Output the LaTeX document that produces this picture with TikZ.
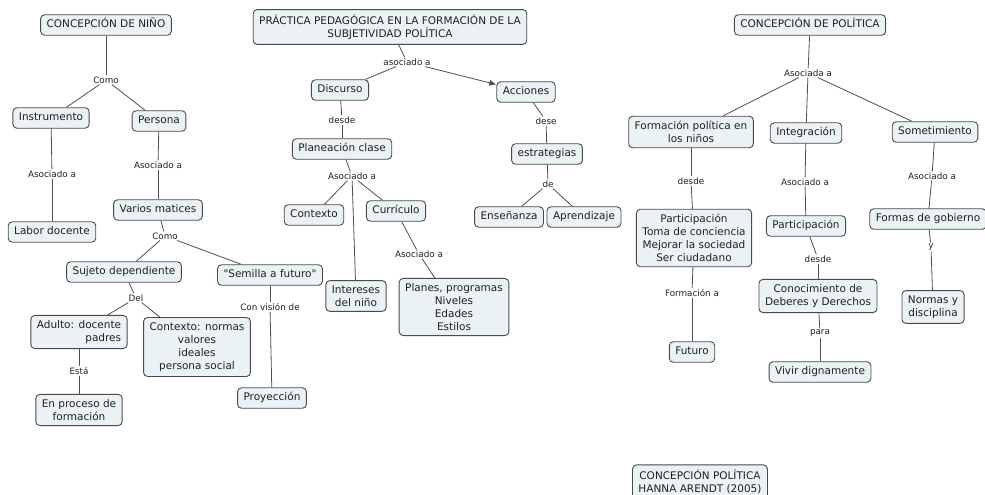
\documentclass[tikz,border=0pt]{standalone}
\usepackage{fontspec}
\setmainfont{DejaVu Sans}[Ligatures=TeXOff]
\usetikzlibrary{arrows.meta}
\definecolor{boxfill}{HTML}{EAF2F5}
\definecolor{boxline}{HTML}{4A4A4A}
\definecolor{lineclr}{HTML}{4F4F4F}
\definecolor{txt}{HTML}{202020}
\begin{document}
\begin{tikzpicture}[x=1pt,y=-1pt,
  concept/.style={draw=boxline, fill=boxfill, rounded corners=4pt, line width=0.9pt,
    font=\fontsize{10.5}{13}\selectfont, text=txt, align=center,
    inner xsep=6pt, inner ysep=5pt},
  one/.style={concept, text height=8pt, text depth=2.5pt},
  linklbl/.style={font=\fontsize{8.8}{10}\selectfont, text=txt, inner sep=1pt, fill=white},
  conn/.style={draw=lineclr, line width=0.8pt},
  arr/.style={conn, -{Latex[length=7pt,width=6pt]}}]
\useasboundingbox (0,0) rectangle (985,495);
\clip (0,0) rectangle (985,495);
\fill[white] (0,0) rectangle (985,495);

% ---------- Concepción de niño ----------
\node[one] (nino) at (106,25) {CONCEPCIÓN DE NIÑO};
\node[linklbl] (l1) at (106,80) {Como};
\node[one] (instr) at (51,118) {Instrumento};
\node[one] (pers) at (159,121) {Persona};
\node[linklbl] (l2) at (52,174) {Asociado a};
\node[linklbl] (l3) at (158,165) {Asociado a};
\node[one] (labor) at (52,232) {Labor docente};
\node[one] (varios) at (158,210) {Varios matices};
\node[linklbl] (l4) at (165,236) {Como};
\node[one] (sujeto) at (124,272) {Sujeto dependiente};
\node[one] (semilla) at (270,275) {"Semilla a futuro"};
\node[linklbl] (l5) at (136,298) {Del};
\node[concept, align=right] (adulto) at (79,332) {Adulto: docente\\padres};
\node[concept] (contx) at (197,347) {Contexto: normas\\valores\\ideales\\persona social};
\node[linklbl] (l6) at (79,371) {Está};
\node[concept] (proceso) at (79,410) {En proceso de\\formación};
\node[linklbl] (l7) at (270,307) {Con visión de};
\node[one] (proy) at (272,398) {Proyección};

% ---------- Práctica pedagógica ----------
\node[concept] (prac) at (390,27) {PRÁCTICA PEDAGÓGICA EN LA FORMACIÓN DE LA\\SUBJETIVIDAD POLÍTICA};
\node[linklbl] (m1) at (407,62) {asociado a};
\node[one] (disc) at (340,90) {Discurso};
\node[one] (acc) at (526,92) {Acciones};
\node[linklbl] (m2) at (342,120) {desde};
\node[one] (plan) at (342,149) {Planeación clase};
\node[linklbl] (m3) at (352,176) {Asociado a};
\node[one] (ctx) at (314,215) {Contexto};
\node[one] (curr) at (396,211) {Currículo};
\node[concept] (inter) at (356,296) {Intereses\\del niño};
\node[linklbl] (m4) at (419,254) {Asociado a};
\node[concept] (planes) at (454,307) {Planes, programas\\Niveles\\Edades\\Estilos};
\node[linklbl] (m5) at (546,121) {dese};
\node[one] (estr) at (547,154) {estrategias};
\node[linklbl] (m6) at (548,184) {de};
\node[one] (ense) at (509,217) {Enseñanza};
\node[one] (apre) at (584,217) {Aprendizaje};

% ---------- Concepción de política ----------
\node[one] (pol) at (810,25) {CONCEPCIÓN DE POLÍTICA};
\node[linklbl] (r1) at (808,73) {Asociada a};
\node[concept] (formpol) at (691,132) {Formación política en\\los niños};
\node[one] (integ) at (806,133) {Integración};
\node[one] (somet) at (935,132) {Sometimiento};
\node[linklbl] (r2) at (691,181) {desde};
\node[linklbl] (r3) at (805,182) {Asociado a};
\node[linklbl] (r4) at (932,176) {Asociado a};
\node[concept] (partm) at (694,238) {Participación\\Toma de conciencia\\Mejorar la sociedad\\Ser ciudadano};
\node[one] (part) at (806,226) {Participación};
\node[one] (formas) at (928,219) {Formas de gobierno};
\node[linklbl] (r5) at (818,259) {desde};
\node[linklbl] (r6) at (931,247) {y};
\node[concept] (conoc) at (818,296) {Conocimiento de\\Deberes y Derechos};
\node[concept] (normas) at (933,307) {Normas y\\disciplina};
\node[linklbl] (r7) at (692,293) {Formación a};
\node[one] (futuro) at (692,352) {Futuro};
\node[linklbl] (r8) at (820,333) {para};
\node[one] (vivir) at (820,372) {Vivir dignamente};
\node[concept] (arendt) at (700,482) {CONCEPCIÓN POLÍTICA\\HANNA ARENDT (2005)};

% ---------- Connectors ----------
\draw[conn] (nino) -- (l1);
\draw[conn] (l1) -- (instr);
\draw[conn] (l1) -- (pers);
\draw[conn] (instr) -- (l2);
\draw[conn] (l2) -- (labor);
\draw[conn] (pers) -- (l3);
\draw[conn] (l3) -- (varios);
\draw[conn] (varios) -- (l4);
\draw[conn] (l4) -- (sujeto);
\draw[conn] (l4) -- (semilla);
\draw[conn] (sujeto) -- (l5);
\draw[conn] (l5) -- (adulto);
\draw[conn] (l5) -- (contx);
\draw[conn] (adulto) -- (l6);
\draw[conn] (l6) -- (proceso);
\draw[conn] (semilla) -- (l7);
\draw[conn] (l7) -- (proy);

\draw[conn] (prac) -- (m1);
\draw[conn] (m1) -- (disc);
\draw[arr] (m1) -- (acc);
\draw[conn] (disc) -- (m2);
\draw[conn] (m2) -- (plan);
\draw[conn] (plan) -- (m3);
\draw[conn] (m3) -- (ctx);
\draw[conn] (m3) -- (curr);
\draw[conn] (m3) -- (inter);
\draw[conn] (curr) -- (m4);
\draw[conn] (m4) -- (planes);
\draw[conn] (acc) -- (m5);
\draw[conn] (m5) -- (estr);
\draw[conn] (estr) -- (m6);
\draw[conn] (m6) -- (ense);
\draw[conn] (m6) -- (apre);

\draw[conn] (pol) -- (r1);
\draw[conn] (r1) -- (formpol);
\draw[conn] (r1) -- (integ);
\draw[conn] (r1) -- (somet);
\draw[conn] (formpol) -- (r2);
\draw[conn] (r2) -- (partm);
\draw[conn] (integ) -- (r3);
\draw[conn] (r3) -- (part);
\draw[conn] (somet) -- (r4);
\draw[conn] (r4) -- (formas);
\draw[conn] (part) -- (r5);
\draw[conn] (r5) -- (conoc);
\draw[conn] (formas) -- (r6);
\draw[conn] (r6) -- (normas);
\draw[conn] (partm) -- (r7);
\draw[conn] (r7) -- (futuro);
\draw[conn] (conoc) -- (r8);
\draw[conn] (r8) -- (vivir);
\end{tikzpicture}
\end{document}
